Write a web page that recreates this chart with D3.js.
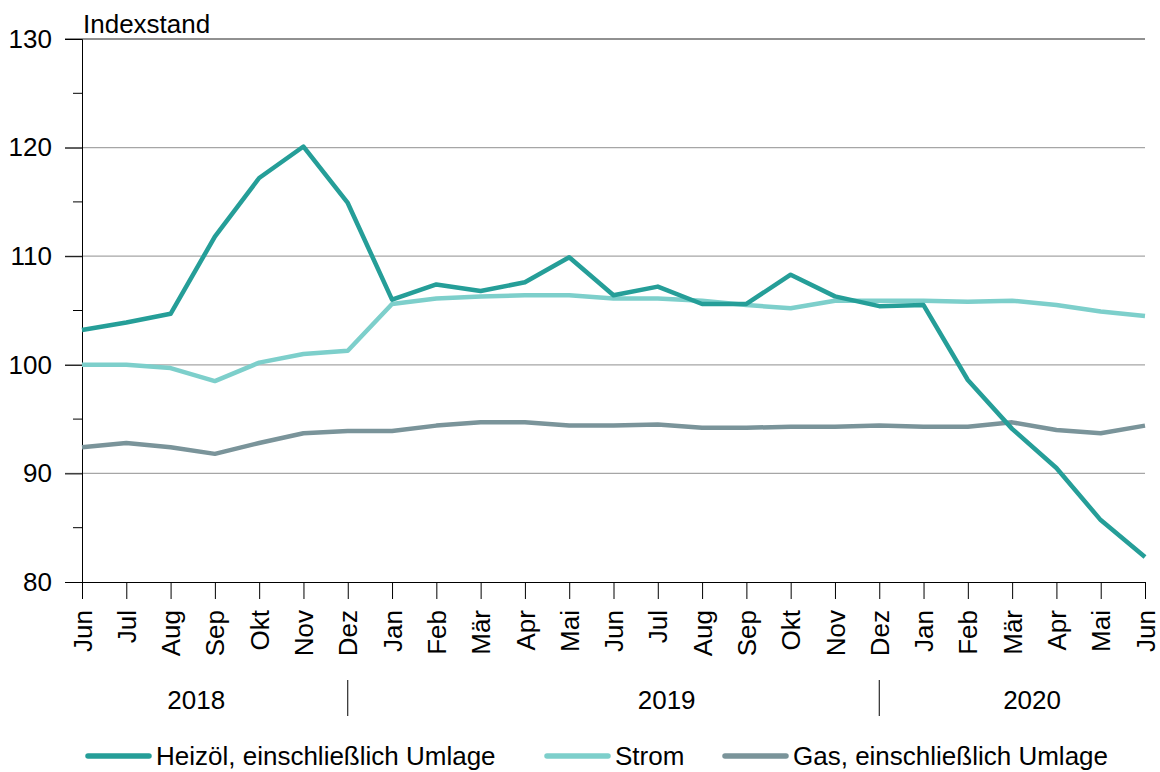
<!DOCTYPE html>
<html>
<head>
<meta charset="utf-8">
<script src="https://cdn.jsdelivr.net/npm/d3@7"></script>
<style>
  body { margin: 0; background: #fff; }
  text { font-family: "Liberation Sans", Arial, sans-serif; fill: #000; }
</style>
</head>
<body>
<script>
var width = 1160, height = 772;

// months Jun 2018 .. Jun 2020
var months = ["Jun","Jul","Aug","Sep","Okt","Nov","Dez","Jan","Feb","Mär","Apr","Mai",
              "Jun","Jul","Aug","Sep","Okt","Nov","Dez","Jan","Feb","Mär","Apr","Mai","Jun"];
var heizoel = [103.2,103.9,104.7,111.8,117.2,120.1,114.9,106.0,107.4,106.8,107.6,109.9,
               106.4,107.2,105.6,105.6,108.3,106.3,105.4,105.5,98.6,94.1,90.5,85.7,82.3];
var strom   = [100.0,100.0,99.7,98.5,100.2,101.0,101.3,105.6,106.1,106.3,106.4,106.4,
               106.1,106.1,105.9,105.5,105.2,105.9,105.9,105.9,105.8,105.9,105.5,104.9,104.5];
var gas     = [92.4,92.8,92.4,91.8,92.8,93.7,93.9,93.9,94.4,94.7,94.7,94.4,
               94.4,94.5,94.2,94.2,94.3,94.3,94.4,94.3,94.3,94.7,94.0,93.7,94.4];
var yearLabels = ["2018", "2019", "2020"];
var yearLabelAt = [2.58, 13.2, 21.45];   // month index where the label is centred
var yearBreaks = [6, 18];                // Dez 2018, Dez 2019
var yTicks = [80, 90, 100, 110, 120, 130];
var yMinor = [85, 95, 105, 115, 125];

var series = [
  {name:"Heizöl, einschließlich Umlage", values:heizoel, color:"#259e98"},
  {name:"Strom", values:strom, color:"#7dcfcb"},
  {name:"Gas, einschließlich Umlage", values:gas, color:"#7a949a"}
];

var plotLeft = 82, plotRight = 1145, plotTop = 39, plotBottom = 582;
var fs = "26px";

var x = d3.scaleLinear().domain([0, months.length - 1]).range([plotLeft, plotRight]);
var y = d3.scaleLinear().domain([80, 130]).range([plotBottom, plotTop]);

var svg = d3.select("body").append("svg")
    .attr("width", width).attr("height", height);

// gridlines
svg.append("g").selectAll("line")
  .data(yTicks.filter(function(d){ return d > 80 && d < 130; }))
  .enter().append("line")
    .attr("x1", 65).attr("x2", plotRight)
    .attr("y1", function(d){ return y(d); }).attr("y2", function(d){ return y(d); })
    .attr("stroke", "#a6a6a6").attr("stroke-width", 1.2);

// top line at 130
svg.append("line").attr("x1", 65).attr("x2", plotRight)
  .attr("y1", y(130)).attr("y2", y(130)).attr("stroke", "#222").attr("stroke-width", 1);

// y axis
var yAxis = d3.axisLeft(y).tickValues(yTicks).tickSize(17).tickPadding(13);
var gy = svg.append("g").attr("transform", "translate(" + plotLeft + ",0)").call(yAxis);
gy.select(".domain").attr("stroke", "#000");
gy.selectAll(".tick line").attr("stroke", "#000");
gy.selectAll("text").style("font-size", fs).attr("font-family", "Liberation Sans, Arial, sans-serif");
svg.append("g").selectAll("line").data(yMinor).enter().append("line")
  .attr("x1", plotLeft - 9).attr("x2", plotLeft)
  .attr("y1", function(d){ return y(d); }).attr("y2", function(d){ return y(d); })
  .attr("stroke", "#000");

// x axis
var xAxis = d3.axisBottom(x).tickValues(d3.range(months.length))
  .tickFormat(function(i){ return months[i]; }).tickSize(17).tickPadding(5);
var gx = svg.append("g").attr("transform", "translate(0," + plotBottom + ")").call(xAxis);
gx.select(".domain").attr("stroke", "#000").attr("d", "M65,0.5H" + plotRight);
gx.selectAll(".tick line").attr("stroke", "#000");
gx.selectAll("text")
  .style("font-size", fs).attr("font-family", "Liberation Sans, Arial, sans-serif")
  .attr("transform", "rotate(-90)")
  .attr("text-anchor", "end")
  .attr("x", -28).attr("y", 0).attr("dy", "0.35em");

// year labels and separators
svg.append("g").selectAll("text").data(yearLabels).enter().append("text")
  .attr("x", function(d, i){ return x(yearLabelAt[i]); }).attr("y", 709)
  .attr("text-anchor", "middle").style("font-size", fs).text(function(d){ return d; });
svg.append("g").selectAll("line").data(yearBreaks).enter().append("line")
  .attr("x1", function(d){ return x(d); }).attr("x2", function(d){ return x(d); })
  .attr("y1", 680).attr("y2", 716).attr("stroke", "#000");

// y title
svg.append("text").attr("x", 83).attr("y", 33).style("font-size", fs).text("Indexstand");

// lines
var line = d3.line().x(function(d, i){ return x(i); }).y(function(d){ return y(d); });
svg.append("g").selectAll("path").data(series.slice().reverse()).enter().append("path")
  .attr("d", function(s){ return line(s.values); })
  .attr("fill", "none").attr("stroke", function(s){ return s.color; })
  .attr("stroke-width", 4.5).attr("stroke-linejoin", "round");

// legend
var legendX = [88, 547, 725];
var lg = svg.append("g").selectAll("g").data(series).enter().append("g")
  .attr("transform", function(d, i){ return "translate(" + legendX[i] + ",756)"; });
lg.append("line").attr("x1", 0).attr("x2", 61).attr("stroke", function(d){ return d.color; })
  .attr("stroke-width", 5.5).attr("stroke-linecap", "round");
lg.append("text").attr("x", 68).attr("dy", "0.33em").style("font-size", fs)
  .text(function(d){ return d.name; });
</script>
</body>
</html>
